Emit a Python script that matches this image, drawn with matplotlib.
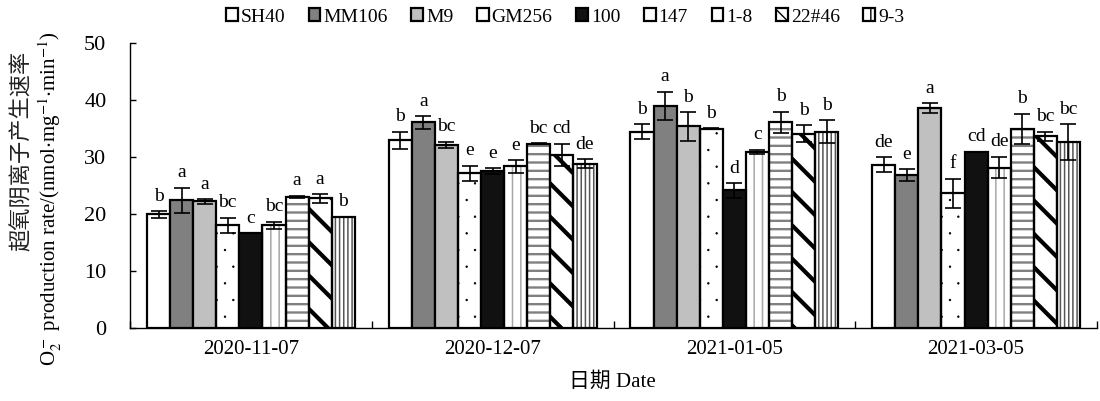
import matplotlib
matplotlib.use("Agg")
import matplotlib.pyplot as plt
import matplotlib.hatch as mhatch
from matplotlib.patches import Patch
import numpy as np

plt.rcParams['font.family'] = ['Liberation Serif', 'Noto Sans CJK SC', 'DejaVu Sans']
plt.rcParams['mathtext.fontset'] = 'stix'
# smaller dots for the '.' hatch
mhatch.SmallFilledCircles.size = 0.045

dates = ["2020-11-07", "2020-12-07", "2021-01-05", "2021-03-05"]
series = ["SH40", "MM106", "M9", "GM256", "100", "147", "1-8", "22#46", "9-3"]

means = {
    "SH40":  [19.9, 32.9, 34.4, 28.6],
    "MM106": [22.4, 36.0, 38.9, 26.8],
    "M9":    [22.2, 32.1, 35.3, 38.5],
    "GM256": [18.0, 27.1, 34.9, 23.6],
    "100":   [16.6, 27.5, 24.1, 30.9],
    "147":   [18.0, 28.3, 30.8, 28.1],
    "1-8":   [23.0, 32.3, 36.0, 34.9],
    "22#46": [22.7, 30.3, 34.0, 33.6],
    "9-3":   [19.5, 28.8, 34.4, 32.6],
}
errors = {
    "SH40":  [0.6, 1.5, 1.3, 1.35],
    "MM106": [2.2, 1.1, 2.5, 1.05],
    "M9":    [0.4, 0.5, 2.5, 0.9],
    "GM256": [1.3, 1.3, 0.1, 2.55],
    "100":   [0.0, 0.5, 1.3, 0.0],
    "147":   [0.6, 1.1, 0.4, 1.9],
    "1-8":   [0.2, 0.1, 1.85, 2.6],
    "22#46": [0.75, 2.0, 1.5, 0.8],
    "9-3":   [0.0, 0.8, 2.0, 3.1],
}
letters = {
    "SH40":  ["b", "b", "b", "de"],
    "MM106": ["a", "a", "a", "e"],
    "M9":    ["a", "bc", "b", "a"],
    "GM256": ["bc", "e", "b", "f"],
    "100":   ["c", "e", "d", "cd"],
    "147":   ["bc", "e", "c", "de"],
    "1-8":   ["a", "bc", "b", "b"],
    "22#46": ["a", "cd", "b", "bc"],
    "9-3":   ["b", "de", "b", "bc"],
}

# style: facecolor, hatch, hatch colour, hatch linewidth
styles = {
    "SH40":  ("white", None, None, 1.0),
    "MM106": ("#808080", None, None, 1.0),
    "M9":    ("#c0c0c0", None, None, 1.0),
    "GM256": ("white", ".", "black", 0.6),
    "100":   ("#111111", None, None, 1.0),
    "147":   ("white", "||", "#a8a8a8", 1.1),
    "1-8":   ("white", "--", "#808080", 1.7),
    "22#46": ("white", "\\", "black", 3.0),
    "9-3":   ("white", "||||", "#555555", 1.1),
}

fig = plt.figure(figsize=(11, 4.01), dpi=100)
ax = fig.add_axes([130/1100, 73/401, 967/1100, 285.5/401])

x = np.arange(len(dates))
w = 0.0955
n = len(series)
for i, s in enumerate(series):
    fc, hatch, hc, hlw = styles[s]
    xpos = x + (i - (n - 1) / 2) * w
    if hatch:
        with plt.rc_context({'hatch.linewidth': hlw}):
            bars_h = ax.bar(xpos, means[s], width=w, facecolor=fc, edgecolor=hc,
                            hatch=hatch, linewidth=0, zorder=2)
            for p in bars_h:
                if hasattr(p, 'set_hatch_linewidth'):
                    p.set_hatch_linewidth(hlw)
        ax.bar(xpos, means[s], width=w, facecolor='none', edgecolor='black',
               linewidth=1.6, zorder=3)
    else:
        ax.bar(xpos, means[s], width=w, facecolor=fc, edgecolor='black',
               linewidth=1.6, zorder=3)
    err = np.array(errors[s])
    mask = err > 0
    ax.errorbar(xpos[mask], np.array(means[s])[mask], yerr=err[mask], fmt='none',
                ecolor='black', elinewidth=1.2, capsize=5.5, capthick=1.2, zorder=4)
    for j in range(len(dates)):
        top = means[s][j] + errors[s][j]
        ax.annotate(letters[s][j], (xpos[j], top), xytext=(0, 7.5),
                    textcoords='offset points', ha='center', va='baseline',
                    fontsize=14)

ax.set_xlim(-0.5, len(dates) - 0.5)
ax.set_ylim(0, 50)
ax.set_yticks(np.arange(0, 51, 10))
ax.tick_params(axis='y', direction='in', length=4, width=1, labelsize=16, pad=17)
ax.set_xticks(x)
ax.set_xticklabels(dates)
ax.tick_params(axis='x', which='major', length=0, labelsize=15, pad=9)
ax.set_xticks(np.arange(-0.5, len(dates), 1.0), minor=True)
ax.tick_params(axis='x', which='minor', direction='in', length=5, width=1)
for sp in ['top', 'right']:
    ax.spines[sp].set_visible(False)
for sp in ['left', 'bottom']:
    ax.spines[sp].set_linewidth(1.0)

# y label: two rotated lines
fig.text(21/1100, 1 - 151/401, "超氧阴离子产生速率", rotation=90, ha='center', va='center',
         fontsize=16, family=['Noto Sans CJK SC'], color='#222222')
fig.text(50/1100, 1 - 199/401,
         r"O$_2^-$ production rate/(nmol$\cdot$mg$^{-1}$$\cdot$min$^{-1}$)",
         rotation=90, ha='center', va='center', fontsize=15)

fig.text(612/1100, 1 - 382/401, "日期 Date", ha='center', va='center', fontsize=15)

handles = []
for s in series:
    fc, hatch, hc, hlw = styles[s]
    lh = {"1-8": "-", "22#46": "\\", "9-3": "||"}.get(s, None)
    handles.append(Patch(facecolor=fc, edgecolor='black', linewidth=1.6, hatch=lh))
leg = fig.legend(handles, series, loc='center', bbox_to_anchor=(565/1100, 1 - 17/401),
                 ncol=9, frameon=False, fontsize=14, handlelength=0.6, handleheight=0.6,
                 handletextpad=0.15, columnspacing=1.22, borderpad=0)

fig.savefig("out.png", dpi=100)
